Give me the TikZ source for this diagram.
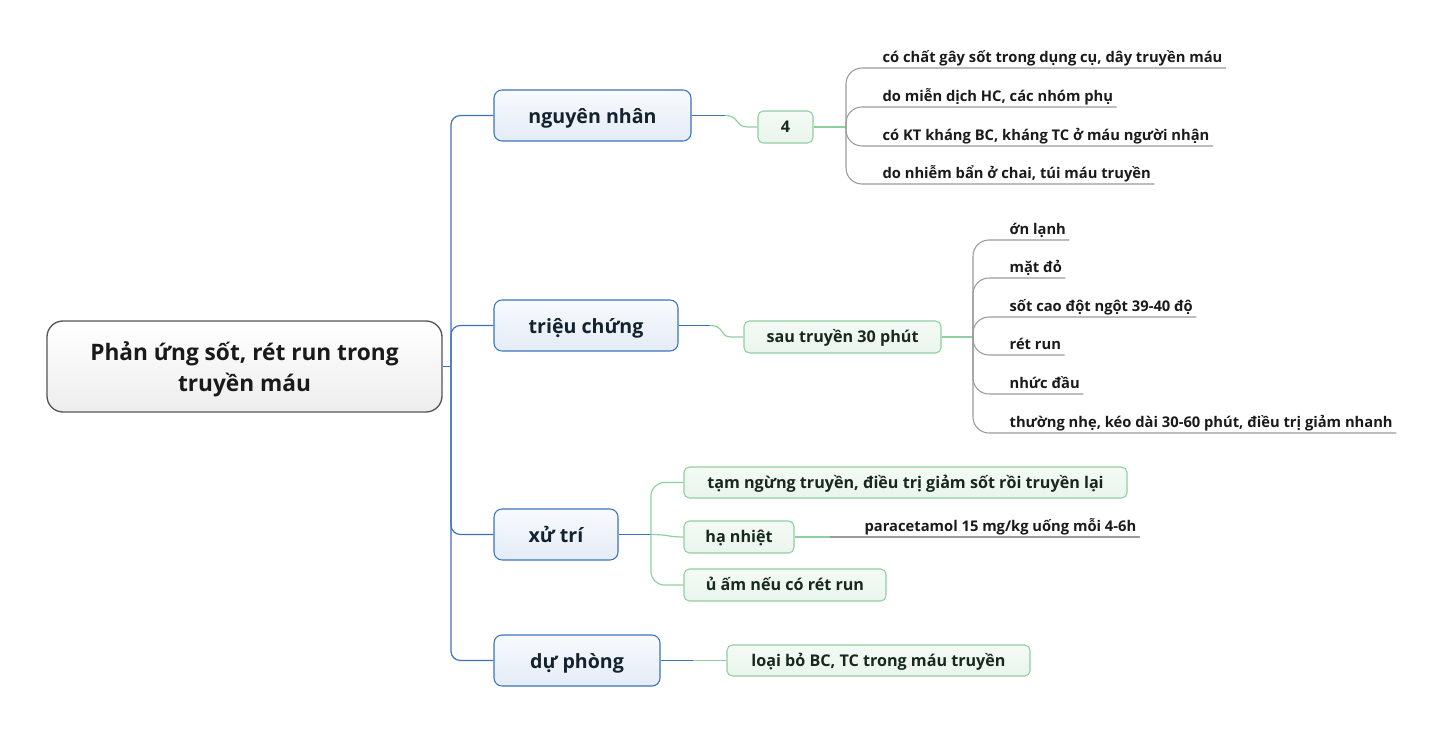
\documentclass[tikz,border=0pt]{standalone}
\usepackage{fontspec}
\setmainfont{Open Sans}
\definecolor{bluebd}{HTML}{3B73B9}
\definecolor{bluetop}{HTML}{F8FAFD}
\definecolor{bluebot}{HTML}{E4ECF7}
\definecolor{greenbd}{HTML}{8FD0A0}
\definecolor{greentop}{HTML}{F4FAF5}
\definecolor{greenbot}{HTML}{E9F5EC}
\definecolor{graybr}{HTML}{9A9A9A}
\definecolor{rootbd}{HTML}{555555}
\definecolor{txt}{HTML}{1A1A1A}
\definecolor{maintxt}{HTML}{13222F}
\definecolor{subtxt}{HTML}{17281C}
\tikzset{
  rootbox/.style={draw=rootbd, line width=1pt, rounded corners=12pt, top color=white, bottom color=black!7,
    align=center, text=txt, font=\bfseries\fontsize{17}{23}\selectfont, inner sep=0pt},
  mainbox/.style={draw=bluebd, line width=0.8pt, rounded corners=6pt, top color=bluetop, bottom color=bluebot,
    text=maintxt, font=\bfseries\fontsize{14.7}{17}\selectfont, inner sep=0pt, text height=13pt, text depth=1pt},
  subbox/.style={draw=greenbd, line width=0.8pt, rounded corners=4pt, top color=greentop, bottom color=greenbot,
    text=subtxt, font=\bfseries\fontsize{12.1}{14}\selectfont, inner sep=0pt, text height=9.6pt, text depth=1pt},
  leaf/.style={inner xsep=2.5pt, inner ysep=0pt, text depth=4.2pt, anchor=south west, text=txt,
    font=\bfseries\fontsize{11.05}{13}\selectfont},
  blueline/.style={draw=bluebd, line width=0.9pt, rounded corners=7pt},
  greenline/.style={draw=greenbd, line width=0.9pt, rounded corners=10pt},
  grayline/.style={draw=graybr, line width=0.8pt, rounded corners=12pt},
}
\begin{document}
\begin{tikzpicture}[x=0.75pt,y=-0.75pt]
\useasboundingbox (0,0) rectangle (1444,734);
% root and main branches
\node[rootbox, minimum width=395*0.75pt, minimum height=91*0.75pt] (root) at (244.5,366.5)
  {\rule{0pt}{19.6pt}Phản ứng sốt, rét run trong\\truyền máu\rule[-5pt]{0pt}{0pt}};
\node[mainbox, minimum width=197*0.75pt, minimum height=51*0.75pt] (nguyen) at (592.5,115.5) {nguyên nhân};
\node[mainbox, minimum width=184*0.75pt, minimum height=51*0.75pt] (trieu) at (586,325.5) {triệu chứng};
\node[mainbox, minimum width=124*0.75pt, minimum height=51*0.75pt] (xutri) at (556,534.5) {xử trí};
\node[mainbox, minimum width=166*0.75pt, minimum height=51*0.75pt] (duphong) at (577,660.5) {dự phòng};
% sub boxes
\node[subbox, minimum width=55*0.75pt, minimum height=32*0.75pt] (four) at (785.5,127) {4};
\node[subbox, minimum width=197*0.75pt, minimum height=32*0.75pt] (sau) at (842.5,337) {sau truyền 30 phút};
\node[subbox, minimum width=443*0.75pt, minimum height=31*0.75pt] (tam) at (905.5,482.5) {tạm ngừng truyền, điều trị giảm sốt rồi truyền lại};
\node[subbox, minimum width=110*0.75pt, minimum height=32*0.75pt] (ha) at (739,537) {hạ nhiệt};
\node[subbox, minimum width=202*0.75pt, minimum height=32*0.75pt] (uam) at (785,585) {ủ ấm nếu có rét run};
\node[subbox, minimum width=303*0.75pt, minimum height=31*0.75pt] (loai) at (878.5,660.5) {loại bỏ BC, TC trong máu truyền};
% leaves: nguyên nhân
\node[leaf] (n1) at (879,68) {có chất gây sốt trong dụng cụ, dây truyền máu};
\node[leaf] (n2) at (879,107) {do miễn dịch HC, các nhóm phụ};
\node[leaf] (n3) at (879,146) {có KT kháng BC, kháng TC ở máu người nhận};
\node[leaf] (n4) at (879,184) {do nhiễm bẩn ở chai, túi máu truyền};
% leaves: triệu chứng
\node[leaf] (m1) at (1006,240) {ớn lạnh};
\node[leaf] (m2) at (1006,278) {mặt đỏ};
\node[leaf] (m3) at (1006,317) {sốt cao đột ngột 39-40 độ};
\node[leaf] (m4) at (1006,355) {rét run};
\node[leaf] (m5) at (1006,394) {nhức đầu};
\node[leaf] (m6) at (1006,433) {thường nhẹ, kéo dài 30-60 phút, điều trị giảm nhanh};
% leaf: hạ nhiệt
\node[leaf] (para) at (861,537) {paracetamol 15 mg/kg uống mỗi 4-6h};
% junction coordinates
\coordinate (trunk) at (451,366.5);
\coordinate (cn) at (725,115.5);
\coordinate (cnb) at (748,127);
\coordinate (jn) at (846,127);
\coordinate (ct) at (710,325.5);
\coordinate (ctb) at (731,337);
\coordinate (jt) at (973,337);
\coordinate (cx) at (651,534.5);
\coordinate (ch) at (830,537);
\coordinate (cd) at (693,660.5);
% trunk
\draw[blueline] (root.east) -- (trunk);
\draw[blueline] (trunk) |- (nguyen.west);
\draw[blueline] (trunk) |- (trieu.west);
\draw[blueline] (trunk) |- (xutri.west);
\draw[blueline] (trunk) |- (duphong.west);
% nguyên nhân
\draw[blueline] (nguyen.east) -- (cn);
\draw[greenbd, line width=0.9pt] (cn) .. controls (740,115.5) and (734,127) .. (cnb) -- (four.west);
\draw[greenbd, line width=0.9pt] (four.east) -- (jn);
\foreach \l in {n1,n2,n3,n4}{
  \draw[grayline] (jn) |- (\l.south west) -- (\l.south east);
}
% triệu chứng
\draw[blueline] (trieu.east) -- (ct);
\draw[greenbd, line width=0.9pt] (ct) .. controls (725,325.5) and (719,337) .. (ctb) -- (sau.west);
\draw[greenbd, line width=0.9pt] (sau.east) -- (jt);
\foreach \l in {m1,m2,m3,m4,m5,m6}{
  \draw[grayline] (jt) |- (\l.south west) -- (\l.south east);
}
% xử trí
\draw[blueline] (xutri.east) -- (cx);
\draw[greenline] (cx) |- (tam.west);
\draw[greenbd, line width=0.9pt] (cx) .. controls (668,534.5) and (668,537) .. (ha.west);
\draw[greenline] (cx) |- (uam.west);
\draw[greenbd, line width=0.9pt] (ha.east) -- (ch);
\draw[graybr, line width=0.8pt] (ch) -- (para.south west) -- (para.south east);
% dự phòng
\draw[blueline] (duphong.east) -- (cd);
\draw[greenbd, line width=0.9pt] (cd) -- (loai.west);
\end{tikzpicture}
\end{document}
